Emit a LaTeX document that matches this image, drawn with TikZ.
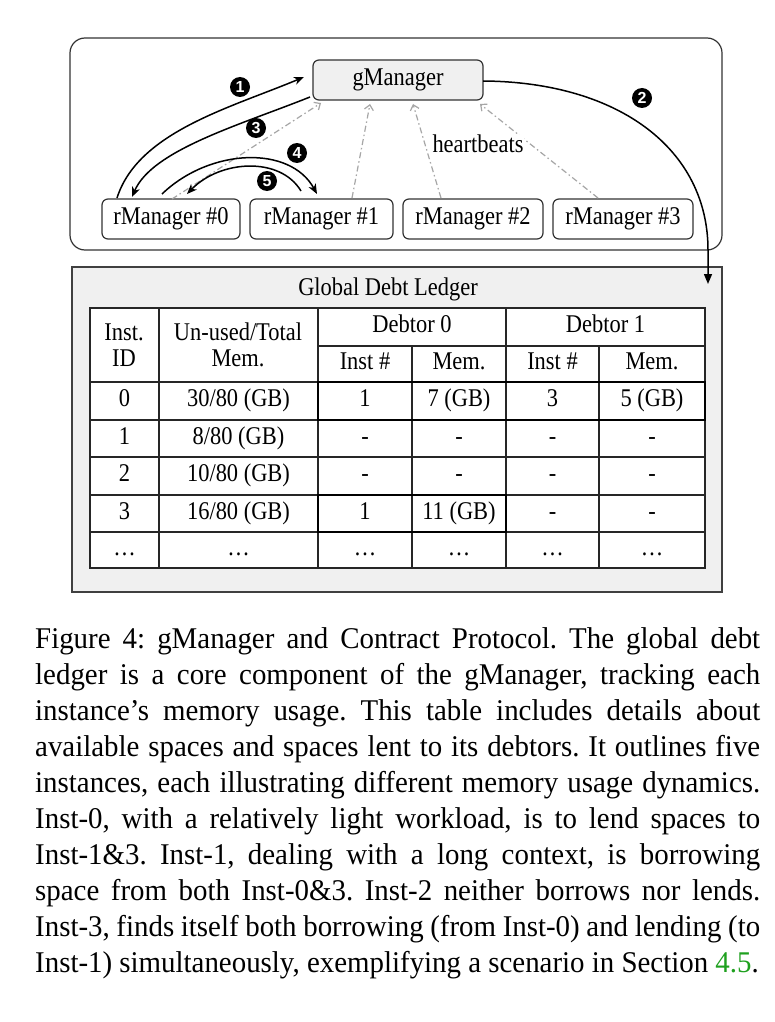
\documentclass[tikz,border=0pt]{standalone}
\usepackage{fontspec}
\setmainfont{Liberation Serif}
\newfontfamily\diafont{Liberation Serif}[FakeStretch=0.88]
\newfontfamily\capfont{Liberation Serif}[FakeStretch=0.96,Ligatures=TeX]
\newfontfamily\badgefont{Liberation Sans}
\usetikzlibrary{arrows.meta}
\definecolor{linkgreen}{RGB}{30,160,30}
\tikzset{
  dfont/.style={font=\diafont\fontsize{25.5}{26}\selectfont},
  box/.style={draw=black!80,line width=1.2pt,rounded corners=6pt,minimum height=40pt,inner sep=0pt,dfont},
  badge/.style={circle,fill=black,text=white,inner sep=0pt,minimum size=20pt,font=\badgefont\bfseries\fontsize{16}{16}\selectfont},
  flow/.style={line width=1.5pt,-{Stealth[length=10pt,width=8pt,inset=3pt]}},
  beat/.style={gray!70,line width=1.2pt,dash pattern=on 6pt off 3pt on 1.5pt off 3pt,-{Straight Barb[length=5pt,width=9pt]}},
  cell/.style={inner sep=0pt,dfont,text height=16pt,text depth=5pt},
  hcell/.style={inner sep=0pt,dfont,align=center},
  thin/.style={line width=1.2pt,draw=black!85},
  thick/.style={line width=2.2pt,draw=black}
}
\begin{document}
\begin{tikzpicture}[x=1pt,y=-1pt]
\useasboundingbox (0,0) rectangle (774,1022);
\fill[white] (0,0) rectangle (774,1022);
% outer top box
\draw[line width=1.2pt,draw=black!80,rounded corners=15pt] (70,38) rectangle (722,250);
% nodes
\node[box,fill=black!6,minimum width=170pt] (g) at (398,80) {gManager};
\node[box,minimum width=138pt] (r0) at (171,219) {rManager \#0};
\node[box,minimum width=143pt] (r1) at (321.5,219) {rManager \#1};
\node[box,minimum width=140pt] (r2) at (473,219) {rManager \#2};
\node[box,minimum width=140pt] (r3) at (623,219) {rManager \#3};
% ledger box
\node[draw=black!75,line width=1.3pt,fill=black!6,minimum width=650pt,minimum height=325pt,inner sep=0pt] (ledger) at (397,429.5) {};
\node[cell] (title) at (388,290) {Global Debt Ledger};
% heartbeats
\coordinate (h0s) at (172,199); \coordinate (h0e) at (321,103);
\coordinate (h1s) at (352,198); \coordinate (h1e) at (370,104);
\coordinate (h2s) at (441,198); \coordinate (h2e) at (413,104);
\coordinate (h3s) at (598,198); \coordinate (h3e) at (480,104);
\draw[beat] (h0s) -- (h0e);
\draw[beat] (h1s) -- (h1e);
\draw[beat] (h2s) -- (h2e);
\draw[beat] (h3s) -- (h3e);
\node[cell,fill=white,inner sep=1pt] (hb) at (478,147) {heartbeats};
% flows
\coordinate (a1s) at (117,198); \coordinate (a1e) at (304,77);
\draw[flow] (a1s) .. controls (138,132) and (230,108) .. (a1e);
\coordinate (a3s) at (310,97); \coordinate (a3e) at (132,197);
\draw[flow] (a3s) .. controls (240,125) and (152,150) .. (a3e);
\coordinate (a4s) at (162,194); \coordinate (a4e) at (317,194);
\draw[flow] (a4s) .. controls (210,148) and (290,145) .. (a4e);
\coordinate (a5s) at (301,191); \coordinate (a5e) at (187,194);
\draw[flow] (a5s) .. controls (280,156) and (220,160) .. (a5e);
\coordinate (a2s) at (483,81); \coordinate (a2m) at (708,250); \coordinate (a2e) at (708,284);
\draw[flow,-{Stealth[length=10pt,width=8pt,inset=0pt]}] (a2s) .. controls (620,82) and (708,150) .. (a2m) -- (a2e);
% badges
\node[badge] (b1) at (240,87) {1};
\node[badge] (b2) at (642,98) {2};
\node[badge] (b3) at (256,128) {3};
\node[badge] (b4) at (297,153) {4};
\node[badge] (b5) at (267,181) {5};
% table
\fill[white] (90,308) rectangle (705,568);
\foreach \y in {382,420,457,495,532} \draw[thin] (90,\y) -- (705,\y);
\draw[thin] (318,346) -- (705,346);
\foreach \x in {159,318,506} \draw[thin] (\x,308) -- (\x,568);
\foreach \x in {412,599} \draw[thin] (\x,346) -- (\x,568);
\draw[thin] (90,308) rectangle (705,568);
\draw[thick] (318,382) rectangle (705,420);
\draw[thick] (318,495) rectangle (506,532);
% header
\node[hcell] (c00) at (124,345) {Inst.\\ID};
\node[hcell] (c01) at (238,345) {Un-used/Total\\Mem.};
\node[cell] (d0) at (412,327) {Debtor 0};
\node[cell] (d1) at (605.5,327) {Debtor 1};
\node[cell] (s1) at (365,364) {Inst \#};
\node[cell] (s2) at (459,364) {Mem.};
\node[cell] (s3) at (552.5,364) {Inst \#};
\node[cell] (s4) at (652,364) {Mem.};
% rows
\foreach \yy/\a/\b/\c/\d/\e/\f in {401/0/30\slash80 (GB)/1/7 (GB)/3/5 (GB),438.5/1/8\slash80 (GB)/-/-/-/-,476/2/10\slash80 (GB)/-/-/-/-,513.5/3/16\slash80 (GB)/1/11 (GB)/-/-,550/\dots/\dots/\dots/\dots/\dots/\dots}{
  \node[cell] at (124.5,\yy) {\a};
  \node[cell] at (238.5,\yy) {\b};
  \node[cell] at (365,\yy) {\c};
  \node[cell] at (459,\yy) {\d};
  \node[cell] at (552.5,\yy) {\e};
  \node[cell] at (652,\yy) {\f};
}
% caption
\node[anchor=north west,inner sep=0pt,text width=725pt,align=justify,font=\capfont\fontsize{30.1}{36.1}\selectfont] (cap) at (35,627) {\fontdimen4\font=0.12em\relax\parfillskip=0pt\relax\frenchspacing Figure 4: gManager and Contract Protocol. The global debt\linebreak ledger is a core component of the gManager, tracking each\linebreak instance’s memory usage. This table includes details about\linebreak available spaces and spaces lent to its debtors. It outlines five\linebreak instances, each illustrating different memory usage dynamics.\linebreak Inst-0, with a relatively light workload, is to lend spaces to\linebreak Inst-1\&3. Inst-1, dealing with a long context, is borrowing\linebreak space from both Inst-0\&3. Inst-2 neither borrows nor lends.\linebreak Inst-3, finds itself both borrowing (from Inst-0) and lending (to\linebreak Inst-1) simultaneously, exemplifying a scenario in Section \textcolor{linkgreen}{4.5}.};
\end{tikzpicture}
\end{document}
